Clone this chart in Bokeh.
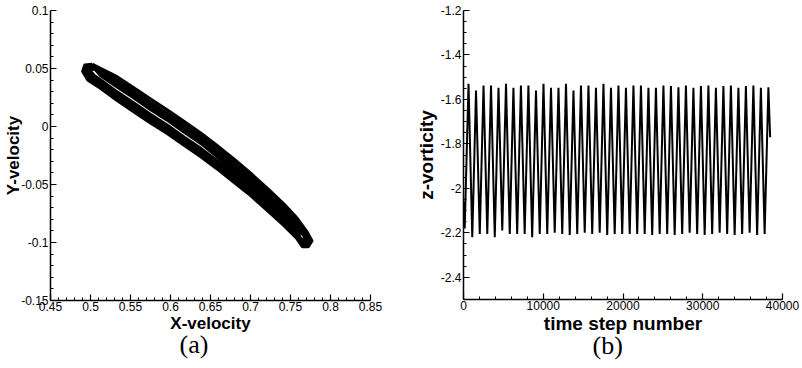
from bokeh.plotting import figure
from bokeh.layouts import row
from bokeh.models import FixedTicker, CustomJSTickFormatter, Range1d, Title
from bokeh.embed import file_html
from bokeh.resources import INLINE

# ---------------- data: panel (a) phase portrait (several traced orbits) ----------------
loopA_x = [0.502, 0.513, 0.533, 0.554, 0.575, 0.596, 0.617, 0.638, 0.658, 0.679, 0.700, 0.721, 0.742, 0.758,
           0.770, 0.7765, 0.772, 0.765,
           0.758, 0.742, 0.721, 0.700, 0.679, 0.658, 0.638, 0.617, 0.596, 0.575, 0.554, 0.533, 0.513,
           0.497, 0.4905, 0.493, 0.502]
loopA_y = [0.0535, 0.0498, 0.0428, 0.0333, 0.0236, 0.0141, 0.0041, -0.0060, -0.0166, -0.0281, -0.0404, -0.0534, -0.0673, -0.0791,
           -0.0905, -0.0985, -0.1035, -0.1035,
           -0.0964, -0.0853, -0.0722, -0.0592, -0.0477, -0.0362, -0.0260, -0.0160, -0.0059, 0.0033, 0.0129, 0.0228, 0.0329,
           0.0400, 0.0475, 0.0528, 0.0535]

loopB_x = [0.503, 0.513, 0.533, 0.554, 0.575, 0.596, 0.617, 0.638, 0.658, 0.679, 0.700, 0.721, 0.742, 0.758,
           0.769, 0.7745, 0.770, 0.764,
           0.758, 0.742, 0.721, 0.700, 0.679, 0.658, 0.638, 0.617, 0.596, 0.575, 0.554, 0.533, 0.513,
           0.499, 0.4925, 0.495, 0.503]
loopB_y = [0.0522, 0.0475, 0.0396, 0.0301, 0.0202, 0.0108, 0.0007, -0.0093, -0.0200, -0.0315, -0.0436, -0.0568, -0.0708, -0.0820,
           -0.0915, -0.0985, -0.1020, -0.1010,
           -0.0942, -0.0835, -0.0700, -0.0568, -0.0453, -0.0338, -0.0234, -0.0134, -0.0033, 0.0059, 0.0157, 0.0255, 0.0356,
           0.0420, 0.0480, 0.0520, 0.0522]

loopC_x = [0.504, 0.513, 0.533, 0.554, 0.575, 0.596, 0.617, 0.638, 0.658, 0.679, 0.700, 0.721, 0.742, 0.758,
           0.768, 0.772, 0.768, 0.763,
           0.758, 0.742, 0.721, 0.700, 0.679, 0.658, 0.638, 0.617, 0.596, 0.575, 0.554, 0.533, 0.513,
           0.501, 0.495, 0.497, 0.504]
loopC_y = [0.0510, 0.0454, 0.0366, 0.0271, 0.0171, 0.0078, -0.0024, -0.0123, -0.0231, -0.0346, -0.0464, -0.0598, -0.0740, -0.0847,
           -0.0925, -0.0980, -0.1005, -0.0990,
           -0.0922, -0.0818, -0.0679, -0.0545, -0.0430, -0.0315, -0.0209, -0.0111, -0.0008, 0.0084, 0.0182, 0.0279, 0.0381,
           0.0435, 0.0485, 0.0512, 0.0510]

loopD_x = [0.506, 0.513, 0.533, 0.554, 0.575, 0.596, 0.617, 0.638, 0.658, 0.679, 0.700, 0.721, 0.742, 0.758,
           0.766, 0.769, 0.766, 0.762,
           0.758, 0.742, 0.721, 0.700, 0.679, 0.658, 0.638, 0.617, 0.596, 0.575, 0.554, 0.533, 0.513,
           0.504, 0.499, 0.501, 0.506]
loopD_y = [0.0495, 0.0440, 0.0345, 0.0250, 0.0150, 0.0058, -0.0045, -0.0143, -0.0254, -0.0372, -0.0490, -0.0627, -0.0772, -0.0875,
           -0.0930, -0.0968, -0.0985, -0.0965,
           -0.0898, -0.0800, -0.0660, -0.0525, -0.0410, -0.0298, -0.0193, -0.0095, 0.0008, 0.0100, 0.0199, 0.0296, 0.0397,
           0.0440, 0.0482, 0.0500, 0.0495]

# ---------------- data: panel (b) z-vorticity history (peaks / troughs) ----------------
t_steps = [0, 150, 630, 1100, 1570, 2040, 2510, 2980, 3450, 3920, 4390, 4860, 5330, 5800, 6260, 6730,
           7200, 7670, 8140, 8610, 9090, 9560, 10030, 10500, 10970, 11440, 11910, 12380, 12850, 13320,
           13790, 14260, 14730, 15200, 15670, 16140, 16610, 17080, 17550, 18020, 18490, 18960, 19430,
           19900, 20370, 20840, 21310, 21780, 22250, 22720, 23190, 23660, 24130, 24600, 25070, 25540,
           26010, 26480, 26950, 27420, 27890, 28360, 28830, 29300, 29770, 30240, 30710, 31180, 31650,
           32120, 32590, 33060, 33530, 34000, 34470, 34940, 35410, 35880, 36350, 36820, 37290, 37760,
           38230, 38450]
z_vort = [-2.06, -2.18, -1.530, -2.220, -1.560, -2.205, -1.537, -2.205, -1.537, -2.220, -1.548, -2.190,
          -1.530, -2.205, -1.548, -2.205, -1.537, -2.205, -1.537, -2.220, -1.560, -2.205, -1.530, -2.205,
          -1.548, -2.200, -1.548, -2.205, -1.530, -2.210, -1.560, -2.205, -1.537, -2.200, -1.537, -2.205,
          -1.548, -2.200, -1.530, -2.210, -1.548, -2.205, -1.537, -2.205, -1.548, -2.205, -1.537, -2.205,
          -1.537, -2.205, -1.548, -2.210, -1.548, -2.205, -1.537, -2.205, -1.540, -2.210, -1.545, -2.205,
          -1.537, -2.200, -1.548, -2.205, -1.540, -2.210, -1.537, -2.205, -1.548, -2.200, -1.540, -2.205,
          -1.537, -2.210, -1.548, -2.205, -1.540, -2.200, -1.537, -2.210, -1.548, -2.205, -1.545, -1.770]

# ---------------- tick labels ----------------
a_xticks = [0.45, 0.5, 0.55, 0.6, 0.65, 0.7, 0.75, 0.8, 0.85]
a_yticks = [-0.15, -0.1, -0.05, 0.0, 0.05, 0.1]
b_xticks = [0, 10000, 20000, 30000, 40000]
b_yticks = [-2.4, -2.2, -2.0, -1.8, -1.6, -1.4, -1.2]

FONT = "Liberation Sans"
fmt = CustomJSTickFormatter(code="return String(Number(tick.toFixed(4)));")


def minors(ticks, n):
    out = []
    for a, b in zip(ticks[:-1], ticks[1:]):
        for k in range(1, n):
            out.append(a + (b - a) * k / n)
    return out


def style(p, xt, yt, xn, yn, xlabel, ylabel, caption):
    p.outline_line_color = None
    p.background_fill_color = "white"
    p.border_fill_color = "white"
    p.xgrid.visible = False
    p.ygrid.visible = False
    p.xaxis.ticker = FixedTicker(ticks=xt, minor_ticks=minors(xt, xn))
    p.yaxis.ticker = FixedTicker(ticks=yt, minor_ticks=minors(yt, yn))
    for ax, lab in ((p.xaxis, xlabel), (p.yaxis, ylabel)):
        ax.axis_label = lab
        ax.formatter = fmt
        ax.axis_line_width = 1.5
        ax.axis_line_color = "black"
        ax.major_tick_in = 6
        ax.major_tick_out = 0
        ax.minor_tick_in = 3
        ax.minor_tick_out = 0
        ax.major_tick_line_color = "black"
        ax.minor_tick_line_color = "black"
        ax.major_tick_line_width = 1.2
        ax.minor_tick_line_width = 1
        ax.major_label_text_font = FONT
        ax.major_label_text_font_size = "12px"
        ax.major_label_text_color = "black"
        ax.axis_label_text_font = FONT
        ax.axis_label_text_font_style = "bold"
        ax.axis_label_text_color = "black"
    p.xaxis.major_label_standoff = 1
    p.yaxis.major_label_standoff = 2
    p.xaxis.axis_label_standoff = 0
    t = Title(text=caption, align="left", offset=129, text_font="Liberation Serif",
              text_font_size="26px", text_font_style="normal", text_color="black", standoff=-16)
    p.add_layout(t, "below")


p1 = figure(frame_width=320, frame_height=290, min_border_left=50, min_border_right=30,
            min_border_top=9, min_border_bottom=69, output_backend="svg", toolbar_location=None,
            x_range=Range1d(0.45, 0.85), y_range=Range1d(-0.15, 0.1))
for lx, ly, lw in ((loopA_x, loopA_y, 3.5), (loopB_x, loopB_y, 3.5), (loopC_x, loopC_y, 3.5), (loopD_x, loopD_y, 3.8)):
    p1.line(lx, ly, line_color="black", line_width=lw, line_join="round")
style(p1, a_xticks, a_yticks, 5, 5, "X-velocity", "Y-velocity", "(a)")
p1.xaxis.axis_label_text_font_size = "17px"
p1.yaxis.axis_label_text_font_size = "17px"
p1.yaxis.axis_label_standoff = -5

p2 = figure(frame_width=319, frame_height=289, min_border_left=63, min_border_right=20,
            min_border_top=10, min_border_bottom=69, output_backend="svg", toolbar_location=None,
            x_range=Range1d(0, 40000), y_range=Range1d(-2.5, -1.2))
p2.line(t_steps, z_vort, line_color="black", line_width=2)
style(p2, b_xticks, b_yticks, 5, 4, "time step number", "z-vorticity", "(b)")
p2.xaxis.axis_label_text_font_size = "19px"
p2.yaxis.axis_label_text_font_size = "19px"
p2.yaxis.axis_label_standoff = 1

layout = row(p1, p2, spacing=0)
open("out.html", "w").write(file_html(layout, INLINE))
